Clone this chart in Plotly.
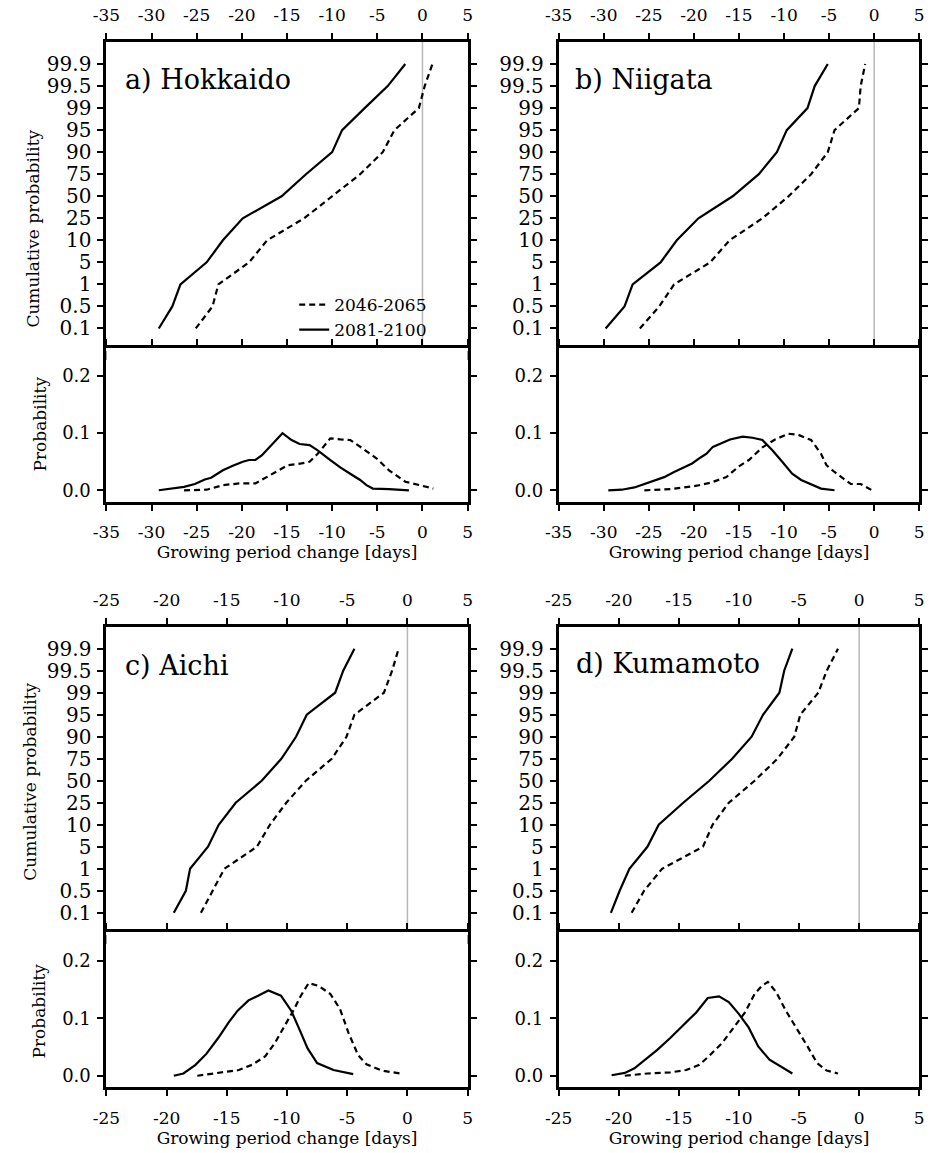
import plotly.graph_objects as go

W, H = 937, 1153
FONT = "DejaVu Serif"

# ---------------- data ----------------
prob_levels = ["0.1", "0.5", "1", "5", "10", "25", "50", "75", "90", "95", "99", "99.5", "99.9"]
periods = ["2046-2065", "2081-2100"]
panel_names = ["a) Hokkaido", "b) Niigata", "c) Aichi", "d) Kumamoto"]

ticks_ab = [-35, -30, -25, -20, -15, -10, -5, 0, 5]
ticks_cd = [-25, -20, -15, -10, -5, 0, 5]
pdf_ticks = [0.0, 0.1, 0.2]
pdf_ticktext = ["0.0", "0.1", "0.2"]

# Cumulative probability: growing period change [days] at each probability level
hok_cdf_2046 = [-25.1, -23.25, -22.6, -19.2, -17.2, -13.1, -10.0, -6.9, -4.4, -3.1, -0.4, 0.25, 1.1]
hok_cdf_2081 = [-29.2, -27.7, -26.8, -23.9, -22.1, -19.9, -15.6, -12.9, -10.0, -8.9, -6.4, -3.85, -1.9]
nii_cdf_2046 = [-26.0, -23.85, -22.2, -18.2, -16.05, -12.4, -9.5, -7.0, -5.15, -4.4, -1.7, -1.5, -1.0]
nii_cdf_2081 = [-29.8, -27.7, -26.8, -23.7, -21.9, -19.5, -15.7, -12.8, -10.8, -9.7, -7.4, -6.6, -5.15]
aic_cdf_2046 = [-17.15, -16.15, -15.2, -12.5, -11.42, -10.06, -8.44, -6.28, -5.06, -4.4, -1.95, -1.27, -0.73]
aic_cdf_2081 = [-19.4, -18.4, -18.05, -16.56, -15.67, -14.26, -12.1, -10.47, -9.25, -8.36, -6.0, -5.33, -4.4]
kum_cdf_2046 = [-18.93, -17.9, -16.4, -13.0, -12.2, -10.85, -8.7, -6.8, -5.4, -4.9, -3.4, -2.7, -1.76]
kum_cdf_2081 = [-20.66, -19.93, -19.12, -17.62, -16.68, -14.64, -12.47, -10.57, -8.95, -8.0, -6.64, -6.24, -5.56]

# Probability density
hok_pdf_2046_x = [-26.4, -23.9, -22.1, -20.3, -18.5, -17.8, -16.3, -14.9, -13.4, -12.5, -11.6, -10.2, -9.1, -8.0, -6.6, -5.1, -3.7, -1.9, -0.05, 1.2]
hok_pdf_2046_y = [0.0, 0.001, 0.009, 0.012, 0.012, 0.018, 0.032, 0.044, 0.047, 0.050, 0.064, 0.091, 0.089, 0.088, 0.073, 0.056, 0.035, 0.015, 0.008, 0.003]
hok_pdf_2081_x = [-29.2, -26.4, -25.2, -24.1, -23.4, -22.1, -21.0, -19.9, -19.2, -18.5, -17.8, -16.7, -15.5, -14.5, -13.6, -12.5, -11.6, -10.2, -9.1, -8.0, -6.9, -6.2, -5.5, -3.7, -1.5]
hok_pdf_2081_y = [0.0, 0.006, 0.011, 0.019, 0.022, 0.035, 0.043, 0.050, 0.053, 0.053, 0.061, 0.079, 0.100, 0.088, 0.081, 0.079, 0.070, 0.053, 0.040, 0.029, 0.018, 0.009, 0.003, 0.002, 0.0]

nii_pdf_2046_x = [-25.5, -22.6, -19.7, -18.2, -16.4, -15.0, -13.9, -12.4, -11.0, -9.5, -8.4, -7.0, -5.9, -5.3, -4.4, -2.6, -1.5, -0.25]
nii_pdf_2046_y = [0.0, 0.002, 0.008, 0.013, 0.023, 0.042, 0.053, 0.075, 0.089, 0.099, 0.097, 0.088, 0.064, 0.044, 0.032, 0.011, 0.011, 0.0]
nii_pdf_2081_x = [-29.5, -28.0, -26.6, -25.5, -24.6, -23.3, -22.2, -21.1, -20.2, -19.3, -18.6, -17.9, -17.1, -16.0, -14.6, -13.5, -12.4, -11.3, -10.2, -9.1, -8.1, -7.0, -5.9, -4.4]
nii_pdf_2081_y = [0.0, 0.001, 0.005, 0.011, 0.015, 0.023, 0.032, 0.041, 0.047, 0.057, 0.064, 0.076, 0.082, 0.089, 0.094, 0.092, 0.088, 0.070, 0.050, 0.029, 0.018, 0.011, 0.003, 0.0]

aic_pdf_2046_x = [-17.45, -15.9, -14.0, -12.9, -11.8, -11.0, -10.2, -9.4, -8.85, -8.2, -7.36, -6.4, -5.6, -4.9, -4.1, -3.4, -2.1, -0.6]
aic_pdf_2046_y = [0.0, 0.004, 0.010, 0.019, 0.034, 0.057, 0.086, 0.116, 0.139, 0.161, 0.156, 0.142, 0.116, 0.075, 0.036, 0.020, 0.009, 0.004]
aic_pdf_2081_x = [-19.4, -18.6, -17.6, -16.7, -15.7, -14.8, -14.1, -13.2, -12.4, -11.55, -10.5, -9.65, -8.85, -8.3, -7.5, -6.14, -4.5]
aic_pdf_2081_y = [0.0, 0.004, 0.019, 0.038, 0.066, 0.094, 0.113, 0.131, 0.139, 0.148, 0.139, 0.113, 0.075, 0.048, 0.022, 0.010, 0.003]

kum_pdf_2046_x = [-19.5, -17.6, -15.7, -14.4, -13.3, -12.5, -11.4, -10.3, -9.5, -8.7, -8.1, -7.6, -6.9, -6.1, -5.15, -4.3, -3.5, -2.7, -1.76]
kum_pdf_2046_y = [0.0, 0.004, 0.006, 0.010, 0.019, 0.034, 0.057, 0.088, 0.110, 0.142, 0.156, 0.163, 0.145, 0.113, 0.081, 0.051, 0.022, 0.009, 0.004]
kum_pdf_2081_x = [-20.6, -19.5, -18.7, -17.9, -16.8, -15.7, -14.6, -13.56, -12.6, -11.66, -10.85, -10.0, -9.2, -8.4, -7.46, -6.5, -5.56]
kum_pdf_2081_y = [0.001, 0.005, 0.013, 0.026, 0.045, 0.066, 0.088, 0.110, 0.135, 0.138, 0.128, 0.107, 0.084, 0.051, 0.028, 0.016, 0.004]

panels = [
    dict(name=panel_names[0], ticks=ticks_ab, rng=[-35, 5],
         cdf=[hok_cdf_2046, hok_cdf_2081],
         pdf=[(hok_pdf_2046_x, hok_pdf_2046_y), (hok_pdf_2081_x, hok_pdf_2081_y)]),
    dict(name=panel_names[1], ticks=ticks_ab, rng=[-35, 5],
         cdf=[nii_cdf_2046, nii_cdf_2081],
         pdf=[(nii_pdf_2046_x, nii_pdf_2046_y), (nii_pdf_2081_x, nii_pdf_2081_y)]),
    dict(name=panel_names[2], ticks=ticks_cd, rng=[-25, 5],
         cdf=[aic_cdf_2046, aic_cdf_2081],
         pdf=[(aic_pdf_2046_x, aic_pdf_2046_y), (aic_pdf_2081_x, aic_pdf_2081_y)]),
    dict(name=panel_names[3], ticks=ticks_cd, rng=[-25, 5],
         cdf=[kum_cdf_2046, kum_cdf_2081],
         pdf=[(kum_pdf_2046_x, kum_pdf_2046_y), (kum_pdf_2081_x, kum_pdf_2081_y)]),
]

# ---------------- layout geometry (pixels) ----------------
col_x = [(94.3, 463.0), (556.0, 924.0)]
row_y = [(42.0, 349.0, 501.7), (626.7, 933.3, 1087.3)]
title_pos = [(111, 80), (571, 80), (111, 665), (572, 663)]
cum_label_pos = [(19, 229), None, (16, 782), None]
prob_label_pos = [(27, 424), None, (26, 1011), None]

line_styles = [dict(color="black", width=2.2, dash="6px,4px"),
               dict(color="black", width=2.2)]


def xd(a, b):
    return [a / W, b / W]


def yd(top, bottom):
    return [1 - bottom / H, 1 - top / H]


fig = go.Figure()
layout = dict(
    width=W, height=H,
    margin=dict(l=0, r=0, t=0, b=0),
    paper_bgcolor="white", plot_bgcolor="white",
    font=dict(family=FONT, color="black", size=17),
    showlegend=True,
    legend=dict(x=286 / W, y=1 - 287 / H, xanchor="left", yanchor="top",
                bgcolor="rgba(0,0,0,0)", font=dict(size=17, family=FONT),
                tracegroupgap=0, itemwidth=30),
)
shapes = []
annotations = []

axis_common = dict(showline=True, linewidth=3, linecolor="black", mirror="ticks",
                   ticks="outside", ticklen=6, tickwidth=2, tickcolor="black",
                   showgrid=False, zeroline=False, tickfont=dict(size=17, family=FONT))

for i, p in enumerate(panels):
    c = i % 2
    r = i // 2
    x0, x1 = col_x[c]
    yt, ym, yb = row_y[r]
    nt = 2 * i + 1
    nb = 2 * i + 2
    sfx_t = "" if nt == 1 else str(nt)
    sfx_b = str(nb)

    # overlap the two domains by the frame width so the divider is a single line
    layout["xaxis" + sfx_t] = dict(axis_common, domain=xd(x0, x1), range=p["rng"], side="top",
                                   anchor="y" + sfx_t, tickvals=p["ticks"],
                                   ticktext=[str(v) for v in p["ticks"]], ticklabelstandoff=5)
    layout["yaxis" + sfx_t] = dict(axis_common, domain=yd(yt, ym + 1.5), anchor="x" + sfx_t,
                                   type="category", categoryorder="array",
                                   categoryarray=prob_levels, range=[-1, 13],
                                   tickmode="array", tickvals=prob_levels, ticktext=prob_levels,
                                   tickfont=dict(size=20, family=FONT),
                                   ticklabelstandoff=2)
    layout["xaxis" + sfx_b] = dict(axis_common, domain=xd(x0, x1), range=p["rng"], side="bottom",
                                   anchor="y" + sfx_b, tickvals=p["ticks"],
                                   ticktext=[str(v) for v in p["ticks"]], ticklabelstandoff=7,
                                   title=dict(text="Growing period change [days]",
                                              font=dict(size=17, family=FONT), standoff=4))
    layout["yaxis" + sfx_b] = dict(axis_common, domain=yd(ym - 1.5, yb), anchor="x" + sfx_b,
                                   range=[-0.02, 0.25], tickvals=pdf_ticks,
                                   ticktext=pdf_ticktext, tickfont=dict(size=18, family=FONT),
                                   ticklabelstandoff=3)

    xr_t, yr_t = "x" + sfx_t, "y" + sfx_t
    xr_b, yr_b = "x" + sfx_b, "y" + sfx_b

    # zero reference line
    for xr, yr in [(xr_t, yr_t), (xr_b, yr_b)]:
        shapes.append(dict(type="line", xref=xr, yref=yr + " domain", x0=0, x1=0, y0=0, y1=1,
                           line=dict(color="#b8b8b8", width=1.5), layer="below"))

    for k in range(2):
        fig.add_trace(go.Scatter(x=p["cdf"][k], y=prob_levels, mode="lines",
                                 line=line_styles[k], name=periods[k],
                                 showlegend=(i == 0), xaxis=xr_t, yaxis=yr_t))
        px_, py_ = p["pdf"][k]
        fig.add_trace(go.Scatter(x=px_, y=py_, mode="lines", line=line_styles[k],
                                 name=periods[k], showlegend=False,
                                 xaxis=xr_b, yaxis=yr_b))

    tx, ty = title_pos[i]
    annotations.append(dict(text=p["name"], x=tx / W, y=1 - ty / H, xref="paper", yref="paper",
                            xanchor="left", yanchor="middle", showarrow=False,
                            font=dict(size=27, family=FONT)))
    if cum_label_pos[i]:
        lx, ly = cum_label_pos[i]
        annotations.append(dict(text="Cumulative probability", x=lx / W, y=1 - ly / H,
                                xref="paper", yref="paper", xanchor="center", yanchor="middle",
                                textangle=-90, showarrow=False, font=dict(size=17, family=FONT)))
    if prob_label_pos[i]:
        lx, ly = prob_label_pos[i]
        annotations.append(dict(text="Probability", x=lx / W, y=1 - ly / H,
                                xref="paper", yref="paper", xanchor="center", yanchor="middle",
                                textangle=-90, showarrow=False, font=dict(size=17, family=FONT)))

layout["shapes"] = shapes
layout["annotations"] = annotations
fig.update_layout(**layout)

fig.write_html("out.html")
